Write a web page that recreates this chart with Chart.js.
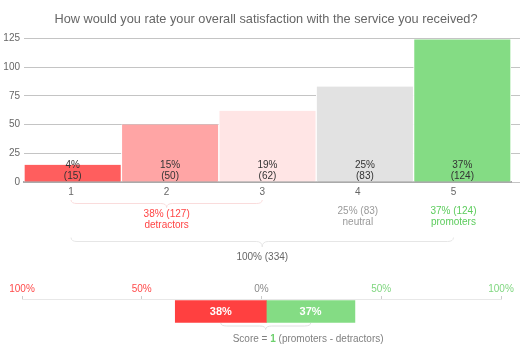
<!DOCTYPE html>
<html><head><meta charset="utf-8">
<script src="https://cdn.jsdelivr.net/npm/chart.js@4/dist/chart.umd.min.js"></script>
<style>
html,body{margin:0;padding:0;background:#fff;}
#wrap{position:relative;width:532px;height:355px;overflow:hidden;}
#c1{position:absolute;left:0;top:0;}
#c2{position:absolute;left:0;top:270px;}
</style></head><body>
<div id="wrap"><canvas id="c1" width="532" height="270"></canvas><canvas id="c2" width="532" height="85"></canvas></div>
<script>
const chartTitle = 'How would you rate your overall satisfaction with the service you received?';
const categories = ['1', '2', '3', '4', '5'];
const counts = [15, 50, 62, 83, 124];
const percents = [4, 15, 19, 25, 37];
const barColors = ['#ff5e5e', '#ffa5a5', '#ffe5e5', '#e2e2e2', '#84dc84'];
const yTicks = [0, 25, 50, 75, 100, 125];
const groupNames = ['detractors', 'neutral', 'promoters'];
const groupPercents = [38, 25, 37];
const groupCounts = [127, 83, 124];
const groupColors = ['#ff4545', '#9a9a9a', '#5ccc5c'];
const totalPercent = 100;
const totalCount = 334;
const npsNames = ['detractors', 'promoters'];
const npsPercents = [38, 37];
const npsRanges = [[-36, 2], [2, 39]];
const npsColors = ['#ff4040', '#84dc84'];
const npsTicks = [-100, -50, 0, 50, 100];
const npsTickColors = ['#ff4a4a', '#ff4a4a', '#8a8a8a', '#7fd67f', '#7fd67f'];
const score = 1;

const FONT = 'Arial, "Liberation Sans", sans-serif';

function brace(ctx, x1, x2, y0, y1, y2, color) {
  const xm = (x1 + x2) / 2;
  const r = 6;
  ctx.save();
  ctx.strokeStyle = color;
  ctx.lineWidth = 1;
  ctx.beginPath();
  ctx.moveTo(x1, y0);
  ctx.quadraticCurveTo(x1, y1, x1 + r, y1);
  ctx.lineTo(xm - r, y1);
  ctx.quadraticCurveTo(xm, y1, xm, y2);
  ctx.quadraticCurveTo(xm, y1, xm + r, y1);
  ctx.lineTo(x2 - r, y1);
  ctx.quadraticCurveTo(x2, y1, x2, y0);
  ctx.stroke();
  ctx.restore();
}
function txt(ctx, s, x, y, color, size, weight, align) {
  ctx.save();
  ctx.font = (weight || 'normal') + ' ' + size + 'px ' + FONT;
  ctx.fillStyle = color;
  ctx.textAlign = align || 'center';
  ctx.textBaseline = 'middle';
  ctx.fillText(s, x, y);
  ctx.restore();
}

const annot1 = {
  id: 'annot1',
  afterDatasetsDraw(chart) {
    const ctx = chart.ctx;
    const meta = chart.getDatasetMeta(0);
    const bottom = chart.chartArea.bottom;
    meta.data.forEach((el, i) => {
      txt(ctx, percents[i] + '%', el.x, bottom - 17, '#333', 10);
      txt(ctx, '(' + counts[i] + ')', el.x, bottom - 6, '#333', 10);
    });
    const xl = chart.scales.xl;
    const lx = i => xl.getPixelForValue(i + 1);
    brace(ctx, lx(0), lx(2), 200, 203.5, 207.5, '#fadcdc');
    txt(ctx, groupPercents[0] + '% (' + groupCounts[0] + ')', lx(1), 214, groupColors[0], 10);
    txt(ctx, groupNames[0], lx(1), 225, groupColors[0], 10);
    txt(ctx, groupPercents[1] + '% (' + groupCounts[1] + ')', lx(3), 211, groupColors[1], 10);
    txt(ctx, groupNames[1], lx(3), 222, groupColors[1], 10);
    txt(ctx, groupPercents[2] + '% (' + groupCounts[2] + ')', lx(4), 211, groupColors[2], 10);
    txt(ctx, groupNames[2], lx(4), 222, groupColors[2], 10);
    brace(ctx, lx(0), lx(4), 237.5, 241.5, 247, '#e6e6e6');
    txt(ctx, totalPercent + '% (' + totalCount + ')', lx(2), 257, '#666', 10);
  }
};

new Chart(document.getElementById('c1'), {
  type: 'bar',
  data: {
    labels: categories,
    datasets: [{
      data: counts,
      backgroundColor: barColors,
      borderColor: '#ffffff',
      borderWidth: { left: 1, right: 1, top: 0, bottom: 0 },
      borderSkipped: false,
      barPercentage: 1,
      categoryPercentage: 1
    }]
  },
  plugins: [annot1],
  options: {
    responsive: false,
    animation: false,
    devicePixelRatio: 1,
    layout: { padding: { left: 0, right: 0, top: 0, bottom: 68 } },
    plugins: {
      legend: { display: false },
      tooltip: { enabled: false },
      title: {
        display: true, text: chartTitle, color: '#666',
        font: { family: FONT, size: 12.75, weight: 'normal' },
        padding: { top: 12, bottom: 11 }
      }
    },
    scales: {
      x: { display: false },
      xl: {
        type: 'linear', position: 'bottom', min: 0.508, max: 5.602, offset: false,
        afterBuildTicks: s => { s.ticks = categories.map((c, i) => ({ value: i + 1 })); },
        grid: { display: false, drawTicks: false, offset: false },
        border: { display: true, color: '#aaaaaa', width: 2 },
        ticks: { color: '#666', font: { family: FONT, size: 10 }, padding: 4,
          callback: (v) => categories[Math.round(v) - 1] }
      },
      y: {
        min: 0, max: 125,
        afterBuildTicks: s => { s.ticks = yTicks.map(v => ({ value: v })); },
        grid: { color: '#c4c4c4', drawTicks: false },
        border: { display: false },
        ticks: { color: '#666', font: { family: FONT, size: 10 }, padding: 4 },
        afterFit: s => { s.width = 24; }
      },
      yR: {
        position: 'right', min: 0, max: 125,
        afterBuildTicks: s => { s.ticks = yTicks.map(v => ({ value: v })); },
        grid: { color: '#c4c4c4', drawOnChartArea: false, drawTicks: true, tickLength: 9 },
        border: { display: false },
        ticks: { display: false },
        afterFit: s => { s.width = 21; }
      }
    }
  }
});

const annot2 = {
  id: 'annot2',
  afterDatasetsDraw(chart) {
    const ctx = chart.ctx;
    const centers = [];
    chart.data.datasets.forEach((ds, d) => {
      const el = chart.getDatasetMeta(d).data[0];
      const cx = (el.x + el.base) / 2;
      centers.push(cx);
      txt(ctx, npsPercents[d] + '%', cx, el.y, '#ffffff', 11, 'bold');
    });
    const bottom = chart.chartArea.bottom;
    brace(ctx, centers[0], centers[1], bottom - 1, bottom + 2, bottom + 5.5, '#e0e0e0');
    const mid = (centers[0] + centers[1]) / 2;
    const y = bottom + 15;
    ctx.save();
    ctx.textBaseline = 'middle';
    ctx.textAlign = 'left';
    let x = mid - 33;
    ctx.font = 'normal 10px ' + FONT;
    ctx.fillStyle = '#808080';
    ctx.fillText('Score = ', x, y);
    x += ctx.measureText('Score = ').width;
    ctx.font = 'bold 10px ' + FONT;
    ctx.fillStyle = '#6cd06c';
    ctx.fillText(String(score), x, y);
    x += ctx.measureText(String(score)).width;
    ctx.font = 'normal 10px ' + FONT;
    ctx.fillStyle = '#808080';
    ctx.fillText(' (promoters - detractors)', x, y);
    ctx.restore();
  }
};

new Chart(document.getElementById('c2'), {
  type: 'bar',
  data: {
    labels: ['NPS'],
    datasets: npsNames.map((n, i) => ({
      label: n, data: [npsRanges[i]], backgroundColor: npsColors[i],
      barThickness: 22, grouped: false, borderWidth: 0
    }))
  },
  plugins: [annot2],
  options: {
    indexAxis: 'y',
    responsive: false,
    animation: false,
    devicePixelRatio: 1,
    layout: { padding: { left: 22, right: 31, top: 12, bottom: 31 } },
    plugins: { legend: { display: false }, tooltip: { enabled: false } },
    scales: {
      x: {
        position: 'top', min: -100, max: 100,
        afterBuildTicks: s => { s.ticks = npsTicks.map(v => ({ value: v })); },
        grid: { drawOnChartArea: false, drawTicks: true, tickLength: 3, color: '#cccccc' },
        border: { color: '#e8e8e8', width: 1 },
        ticks: { color: c => npsTickColors[c.index], font: { family: FONT, size: 10 }, padding: 1,
          callback: v => Math.abs(v) + '%' }
      },
      y: { display: false }
    }
  }
});
</script>
</body></html>
